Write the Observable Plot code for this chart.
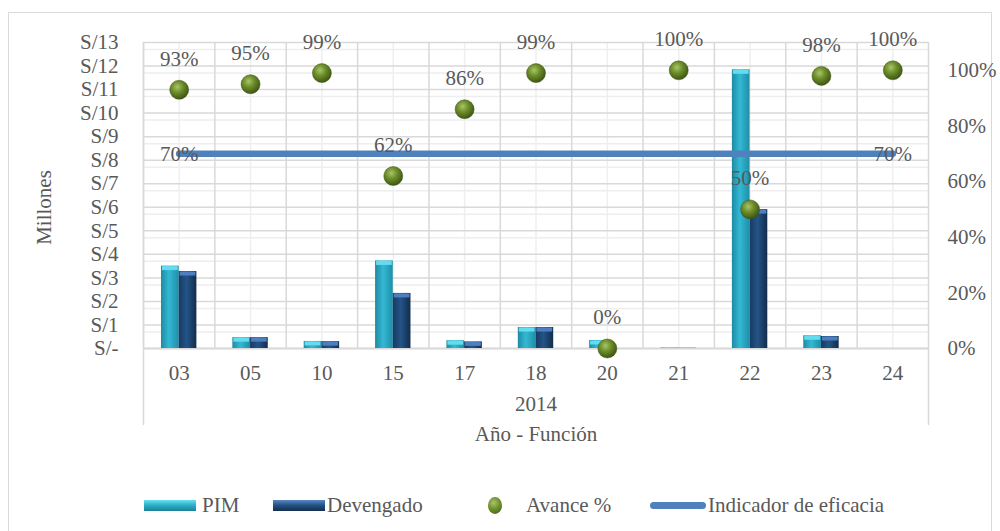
<!DOCTYPE html>
<html>
<head>
<meta charset="utf-8">
<script src="https://cdn.jsdelivr.net/npm/d3@7"></script>
<script src="https://cdn.jsdelivr.net/npm/@observablehq/plot@0.6"></script>
<style>
  html, body { margin: 0; padding: 0; background: #fff; }
  #wrap { position: relative; width: 1000px; height: 531px; overflow: hidden; background: #fff;
          font-family: "Liberation Serif", "Times New Roman", serif; color: #595959; }
  #border { position: absolute; left: 8px; top: 12px; width: 984px; height: 560px;
            border: 1.5px solid #d9d9d9; box-sizing: border-box; }
  #chart { position: absolute; left: 0; top: 0; }
  .lt { position: absolute; top: 494px; line-height: 22px; font-size: 21px; white-space: nowrap; }
  .sw { position: absolute; }
</style>
</head>
<body>
<div id="wrap">
  <div id="border"></div>
  <div id="chart"></div>
  <div id="legend"></div>
</div>
<script>
// ---- data ----
const categorias = ["03", "05", "10", "15", "17", "18", "20", "21", "22", "23", "24"];
const anio = "2014";
const pim       = [3.50, 0.46, 0.30, 3.72, 0.33, 0.89, 0.34, 0.02, 11.84, 0.54, 0];
const devengado = [3.27, 0.46, 0.29, 2.34, 0.28, 0.89, 0.00, 0.01, 5.90, 0.51, 0];
const avance    = [93, 95, 99, 62, 86, 99, 0, 100, 50, 98, 100];
const indicador = [70, 70, 70, 70, 70, 70, 70, 70, 70, 70, 70];
const yTicks    = [0, 1, 2, 3, 4, 5, 6, 7, 8, 9, 10, 11, 12, 13];
const pctTicks  = [0, 20, 40, 60, 80, 100];
const yMax = 13;      // left axis max (millones)
const pctMax = 110;   // right axis max (%)

// ---- layout ----
const W = 1000, H = 460, ML = 143, MR = 72, MT = 42, MB = 112;
const bw = (W - ML - MR) / categorias.length;
const barW = 17.7;
const toY = p => p / pctMax * yMax;

const rows = categorias.map((c, i) => ({
  cat: c, pim: pim[i], dev: devengado[i], av: avance[i], ind: indicador[i]
}));

const grid = "#d9d9d9";
const chart = Plot.plot({
  width: W, height: H,
  marginLeft: ML, marginRight: MR, marginTop: MT, marginBottom: MB,
  style: { fontFamily: '"Liberation Serif", "Times New Roman", serif', fontSize: "21px",
           color: "#595959", background: "transparent", overflow: "visible" },
  x: { type: "band", domain: categorias, padding: 0, round: false },
  y: { domain: [0, yMax] },
  marks: [
    // light secondary lines
    Plot.gridY(yTicks.filter(v => v > 0), { stroke: "#eeeeee", strokeOpacity: 1, strokeWidth: 1.5, dy: 7 }),
    Plot.gridX(categorias, { stroke: "#efefef", strokeOpacity: 1, strokeWidth: 1.5 }),
    // main grid
    Plot.gridY(yTicks, { stroke: grid, strokeOpacity: 1, strokeWidth: 1.5 }),
    Plot.gridX(categorias, { dx: -bw / 2, stroke: grid, strokeOpacity: 1, strokeWidth: 1.5 }),
    Plot.ruleX([categorias[0]], { dx: -bw / 2, insetBottom: -77, stroke: grid, strokeWidth: 1.5 }),
    Plot.ruleX([categorias[categorias.length - 1]], { dx: bw / 2, insetBottom: -77, stroke: grid, strokeWidth: 1.5 }),
    Plot.ruleY([0], { stroke: grid, strokeWidth: 2 }),
    // bars
    Plot.barY(rows, { x: "cat", y: "pim", fill: "url(#gPim)", insetLeft: bw / 2 - barW, insetRight: bw / 2 }),
    Plot.barY(rows, { x: "cat", y: "dev", fill: "url(#gDev)", insetLeft: bw / 2, insetRight: bw / 2 - barW }),
    Plot.tickY(rows.filter(d => d.pim > 0.05), { x: "cat", y: "pim", stroke: "#62ddef", strokeWidth: 4, dy: 2,
      insetLeft: bw / 2 - barW + 1, insetRight: bw / 2 + 1 }),
    Plot.tickY(rows.filter(d => d.dev > 0.05), { x: "cat", y: "dev", stroke: "#4d7fc0", strokeWidth: 4, dy: 2,
      insetLeft: bw / 2 + 1, insetRight: bw / 2 - barW + 1 }),
    // indicator line
    Plot.line(rows, { x: "cat", y: d => toY(d.ind), stroke: "#4f81bd", strokeWidth: 6.5 }),
    // avance dots
    Plot.dot(rows, { x: "cat", y: d => toY(d.av), r: 9.5, fill: "url(#gDot)", stroke: "#3d5512", strokeWidth: 0.5 }),
    // labels
    Plot.text(rows, { x: "cat", y: d => toY(d.av), text: d => d.av + "%", dy: -31, fill: "#595959" }),
    Plot.text([rows[0], rows[rows.length - 1]], { x: "cat", y: d => toY(d.ind), text: d => d.ind + "%", fill: "#595959" }),
    // axes
    Plot.axisY(yTicks, { anchor: "left", tickSize: 0, tickPadding: 25, label: null,
      tickFormat: d => d === 0 ? "S/-" : "S/" + d }),
    Plot.axisY(pctTicks.map(toY), { anchor: "right", tickSize: 0, tickPadding: 19, label: null,
      tickFormat: d => Math.round(d / yMax * pctMax) + "%" }),
    Plot.axisX({ anchor: "bottom", tickSize: 0, tickPadding: 17, label: null }),
    Plot.text([anio], { frameAnchor: "bottom", dy: 62, fill: "#595959" }),
    Plot.text(["Año - Función"], { frameAnchor: "bottom", dy: 92, fill: "#595959" }),
    Plot.text(["Millones"], { frameAnchor: "left", textAnchor: "middle", dx: -99, dy: 12, rotate: -90, fill: "#595959" })
  ]
});

chart.insertAdjacentHTML("afterbegin", `
<defs>
  <linearGradient id="gPim" x1="0" x2="1" y1="0" y2="0">
    <stop offset="0" stop-color="#1f8aa3"/>
    <stop offset="0.45" stop-color="#33b9d4"/>
    <stop offset="1" stop-color="#1f8ea8"/>
  </linearGradient>
  <linearGradient id="gDev" x1="0" x2="1" y1="0" y2="0">
    <stop offset="0" stop-color="#173a63"/>
    <stop offset="0.45" stop-color="#245487"/>
    <stop offset="1" stop-color="#122c4c"/>
  </linearGradient>
  <radialGradient id="gDot" cx="0.4" cy="0.35" r="0.65">
    <stop offset="0" stop-color="#aac46c"/>
    <stop offset="0.45" stop-color="#6e8f2a"/>
    <stop offset="1" stop-color="#3f5614"/>
  </radialGradient>
</defs>`);
document.getElementById("chart").appendChild(chart);

// ---- legend ----
const legendItems = [
  { label: "PIM", kind: "bar", fill: "linear-gradient(#66e4f4, #2fb0ca 45%, #1b8099)", sx: 144, tx: 202 },
  { label: "Devengado", kind: "bar", fill: "linear-gradient(#5a88c4, #245487 45%, #132d4e)", sx: 273, tx: 327 },
  { label: "Avance %", kind: "dot", fill: "radial-gradient(circle at 40% 35%, #aac46c, #6e8f2a 45%, #3f5614)", sx: 495, tx: 526 },
  { label: "Indicador de eficacia", kind: "line", fill: "#4f81bd", sx: 650, tx: 708 }
];
const leg = document.getElementById("legend");
legendItems.forEach(it => {
  const s = document.createElement("div");
  s.className = "sw";
  if (it.kind === "bar") {
    Object.assign(s.style, { left: it.sx + "px", top: "500px", width: "52px", height: "11px", background: it.fill });
  } else if (it.kind === "dot") {
    Object.assign(s.style, { left: (it.sx - 7) + "px", top: "497px", width: "14px", height: "17px",
      borderRadius: "50%", background: it.fill });
  } else {
    Object.assign(s.style, { left: it.sx + "px", top: "502px", width: "56px", height: "7px",
      borderRadius: "4px", background: it.fill });
  }
  leg.appendChild(s);
  const t = document.createElement("div");
  t.className = "lt";
  t.style.left = it.tx + "px";
  t.textContent = it.label;
  leg.appendChild(t);
});
</script>
</body>
</html>
